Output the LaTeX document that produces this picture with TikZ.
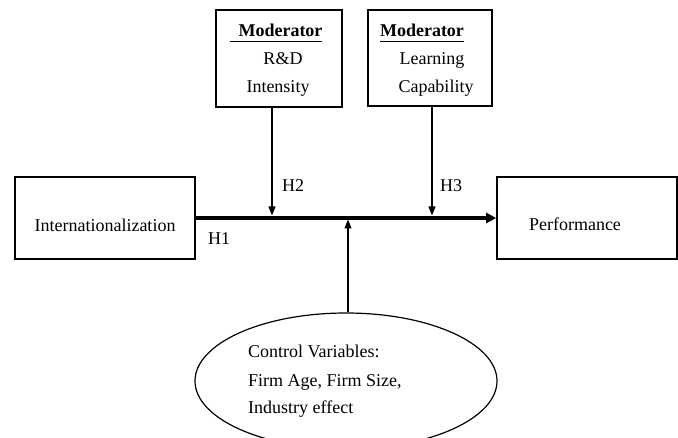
\documentclass[tikz,border=0pt]{standalone}
\usepackage{fontspec}
\setmainfont{Liberation Serif}
\usetikzlibrary{arrows.meta}
\usetikzlibrary{shapes.geometric}

% underlined heading inside the moderator boxes
\newcommand{\modul}[1]{\setbox0\hbox{#1}\rlap{\rule[-5pt]{\wd0}{1.2pt}}\box0}

\begin{document}
\begin{tikzpicture}[x=1pt,y=-1pt,
  box/.style={draw, line width=1.6pt, inner sep=0pt},
  txt/.style={anchor=base, inner sep=0pt, font=\fontsize{18}{27}\selectfont},
  ltxt/.style={txt, anchor=base west},
  link/.style={line width=1.1pt, -{Triangle[length=9pt,width=7pt]}},
  mainlink/.style={line width=3.5pt, -{Triangle[length=10pt,width=10pt]}}]
\useasboundingbox (0,0) rectangle (678,438);

% boxes
\node[box, minimum width=180, minimum height=82] (intl) at (105,218) {};
\node[box, minimum width=180, minimum height=82] (perf) at (587,218) {};
\node[box, minimum width=126, minimum height=97] (mod1) at (279,58.5) {};
\node[box, minimum width=124, minimum height=96] (mod2) at (430,58) {};
\node[draw, ellipse, line width=1.2pt, inner sep=0pt,
      minimum width=302, minimum height=136] (ctrl) at (346,381) {};

% texts
\node[txt] (intltxt) at (105,232) {Internationalization};
\node[txt] (perftxt) at (575,231) {Performance};
\node[txt] (mod1a) at (276,37) {\modul{\textbf{\hspace{9pt}Moderator}}};
\node[txt] (mod1b) at (283,65) {R\&D};
\node[txt] (mod1c) at (278,93) {Intensity};
\node[txt] (mod2a) at (422,37) {\modul{\textbf{Moderator}}};
\node[txt] (mod2b) at (432,65) {Learning};
\node[txt] (mod2c) at (436,93) {Capability};
\node[ltxt] (ctrla) at (248,358) {Control Variables:};
\node[ltxt] (ctrlb) at (248,387) {Firm Age, Firm Size,};
\node[ltxt] (ctrlc) at (248,414) {Industry effect};

% hypotheses
\node[ltxt] (h1) at (208,245) {H1};
\node[ltxt] (h2) at (282,192) {H2};
\node[ltxt] (h3) at (440,192) {H3};

% arrows
\coordinate (h2pt) at (272,215.5);
\coordinate (h3pt) at (432,215.5);
\coordinate (ctrlpt) at (348,219.5);
\draw[mainlink] (intl.east) -- (perf.west);
\draw[link] (h2pt |- mod1.south) -- (h2pt);
\draw[link] (h3pt |- mod2.south) -- (h3pt);
\draw[link] (ctrlpt |- ctrl.north) -- (ctrlpt);
\end{tikzpicture}
\end{document}
